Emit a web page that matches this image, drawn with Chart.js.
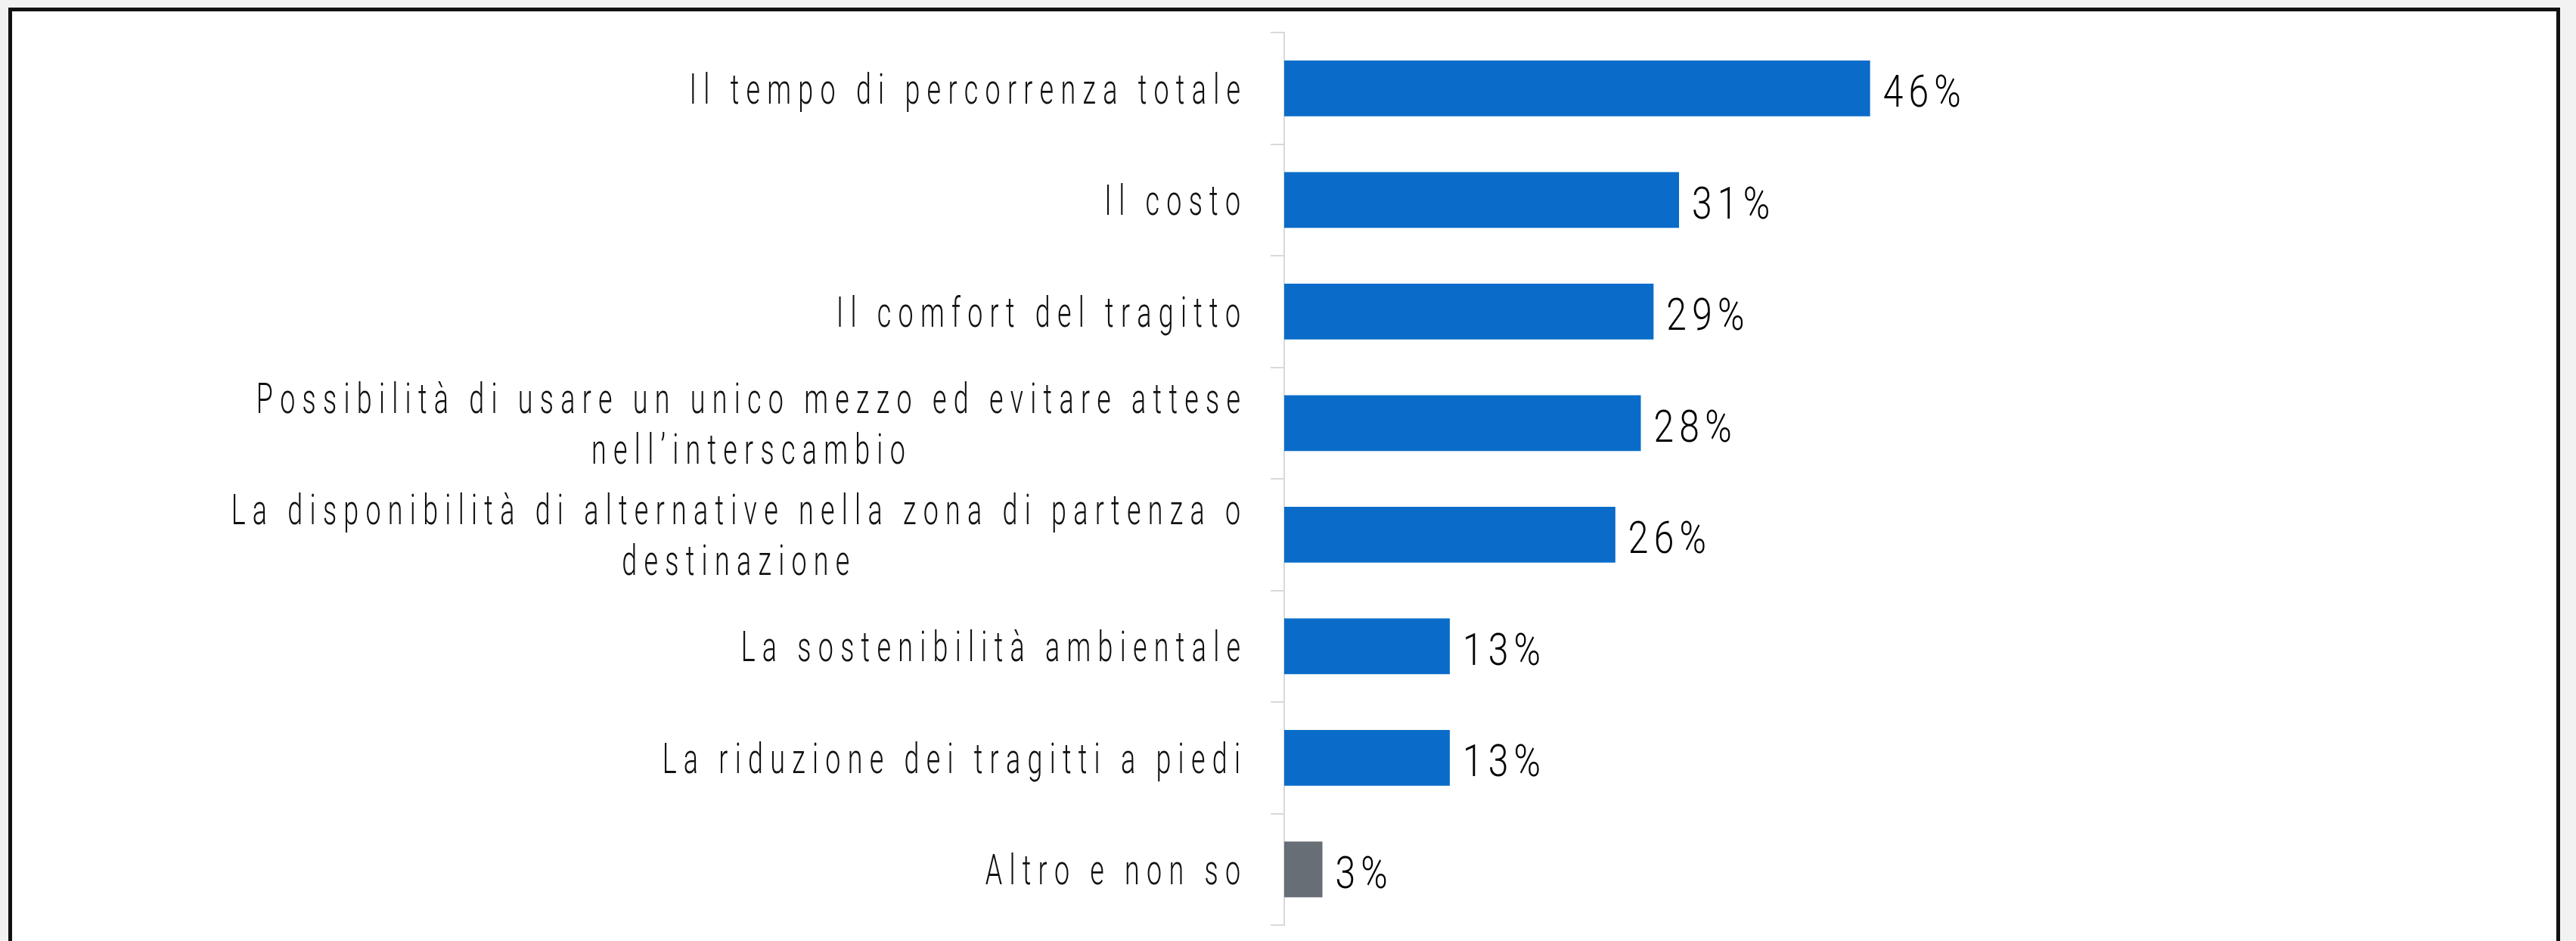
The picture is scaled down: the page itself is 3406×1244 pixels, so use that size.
<!DOCTYPE html>
<html>
<head>
<meta charset="utf-8">
<script src="https://cdn.jsdelivr.net/npm/chart.js@4.4.1/dist/chart.umd.min.js"></script>
<style>
  html, body { margin: 0; padding: 0; width: 3406px; height: 1244px; overflow: hidden; background: #f2f2f2; }
  #frame { position: absolute; left: 11px; top: 10px; width: 3364px; height: 1300px; border: 5px solid #111; background: #fff; }
  #wrap { position: absolute; left: 0; top: 0; width: 3406px; height: 1244px; }
</style>
</head>
<body>
<div id="frame"></div>
<div id="wrap"><canvas id="chart"></canvas></div>
<script>
// data
const categories = [
  "Il tempo di percorrenza totale",
  "Il costo",
  "Il comfort del tragitto",
  ["Possibilità di usare un unico mezzo ed evitare attese", "nell’interscambio"],
  ["La disponibilità di alternative nella zona di partenza o", "destinazione"],
  "La sostenibilità ambientale",
  "La riduzione dei tragitti a piedi",
  "Altro e non so",
];
const values = [46, 31, 29, 28, 26, 13, 13, 3];

const BLUE = "#0a6cc8";
const GRAY = "#686e76";

// the reference uses a condensed, tracked-out face; fake it with a squeeze
function spacedWidth(ctx, text, sx, spacing) {
  let w = 0;
  let n = 0;
  for (const ch of text) {
    w += ctx.measureText(ch).width;
    n++;
  }
  return (w + spacing * Math.max(0, n - 1)) * sx;
}

function drawSpaced(ctx, text, x, y, sx, spacing) {
  ctx.save();
  ctx.translate(x, y);
  ctx.scale(sx, 1);
  let cx = 0;
  for (const ch of text) {
    ctx.fillText(ch, cx, 0);
    cx += ctx.measureText(ch).width + spacing;
  }
  ctx.restore();
}

const labelPlugin = {
  id: "condensedLabels",
  afterDatasetsDraw(chart) {
    const ctx = chart.ctx;
    const yScale = chart.scales.y;
    const right = chart.chartArea.left - 58;

    ctx.save();
    ctx.textAlign = "left";
    ctx.textBaseline = "alphabetic";

    // category labels
    ctx.font = "300 56px Roboto";
    ctx.fillStyle = "#111";
    categories.forEach((label, i) => {
      const lines = Array.isArray(label) ? label : [label];
      const yc = yScale.getPixelForTick(i);
      const widths = lines.map((l) => spacedWidth(ctx, l, 0.64, 14.5));
      const blockW = Math.max(...widths);
      const mid = right - blockW / 2;
      lines.forEach((line, k) => {
        const base = yc + 20 + (k - (lines.length - 1) / 2) * 67;
        drawSpaced(ctx, line, mid - widths[k] / 2, base, 0.64, 14.5);
      });
    });

    // value labels
    ctx.font = "300 60px Roboto";
    ctx.fillStyle = "#000";
    const meta = chart.getDatasetMeta(0);
    meta.data.forEach((bar, i) => {
      drawSpaced(ctx, values[i] + "%", bar.x + 17, bar.y + 24.5, 0.8, 9);
    });
    ctx.restore();
  },
};

new Chart(document.getElementById("chart").getContext("2d"), {
  type: "bar",
  data: {
    labels: categories,
    datasets: [
      {
        data: values,
        backgroundColor: (c) => (c.dataIndex === values.length - 1 ? GRAY : BLUE),
        borderWidth: 0,
        categoryPercentage: 1,
        barPercentage: 0.5,
      },
    ],
  },
  options: {
    indexAxis: "y",
    responsive: true,
    maintainAspectRatio: false,
    animation: false,
    devicePixelRatio: 1,
    layout: { padding: { left: 1680, top: 43, bottom: 21, right: 24 } },
    plugins: { legend: { display: false }, tooltip: { enabled: false } },
    scales: {
      x: { type: "linear", min: 0, max: 100, display: false },
      y: {
        type: "category",
        grid: {
          display: true,
          drawOnChartArea: false,
          drawTicks: true,
          tickLength: 18,
          offset: true,
          color: "#d9d9d9",
          lineWidth: 2,
        },
        border: { display: true, color: "#d9d9d9", width: 2 },
        ticks: { display: false },
      },
    },
  },
  plugins: [labelPlugin],
});
</script>
</body>
</html>
